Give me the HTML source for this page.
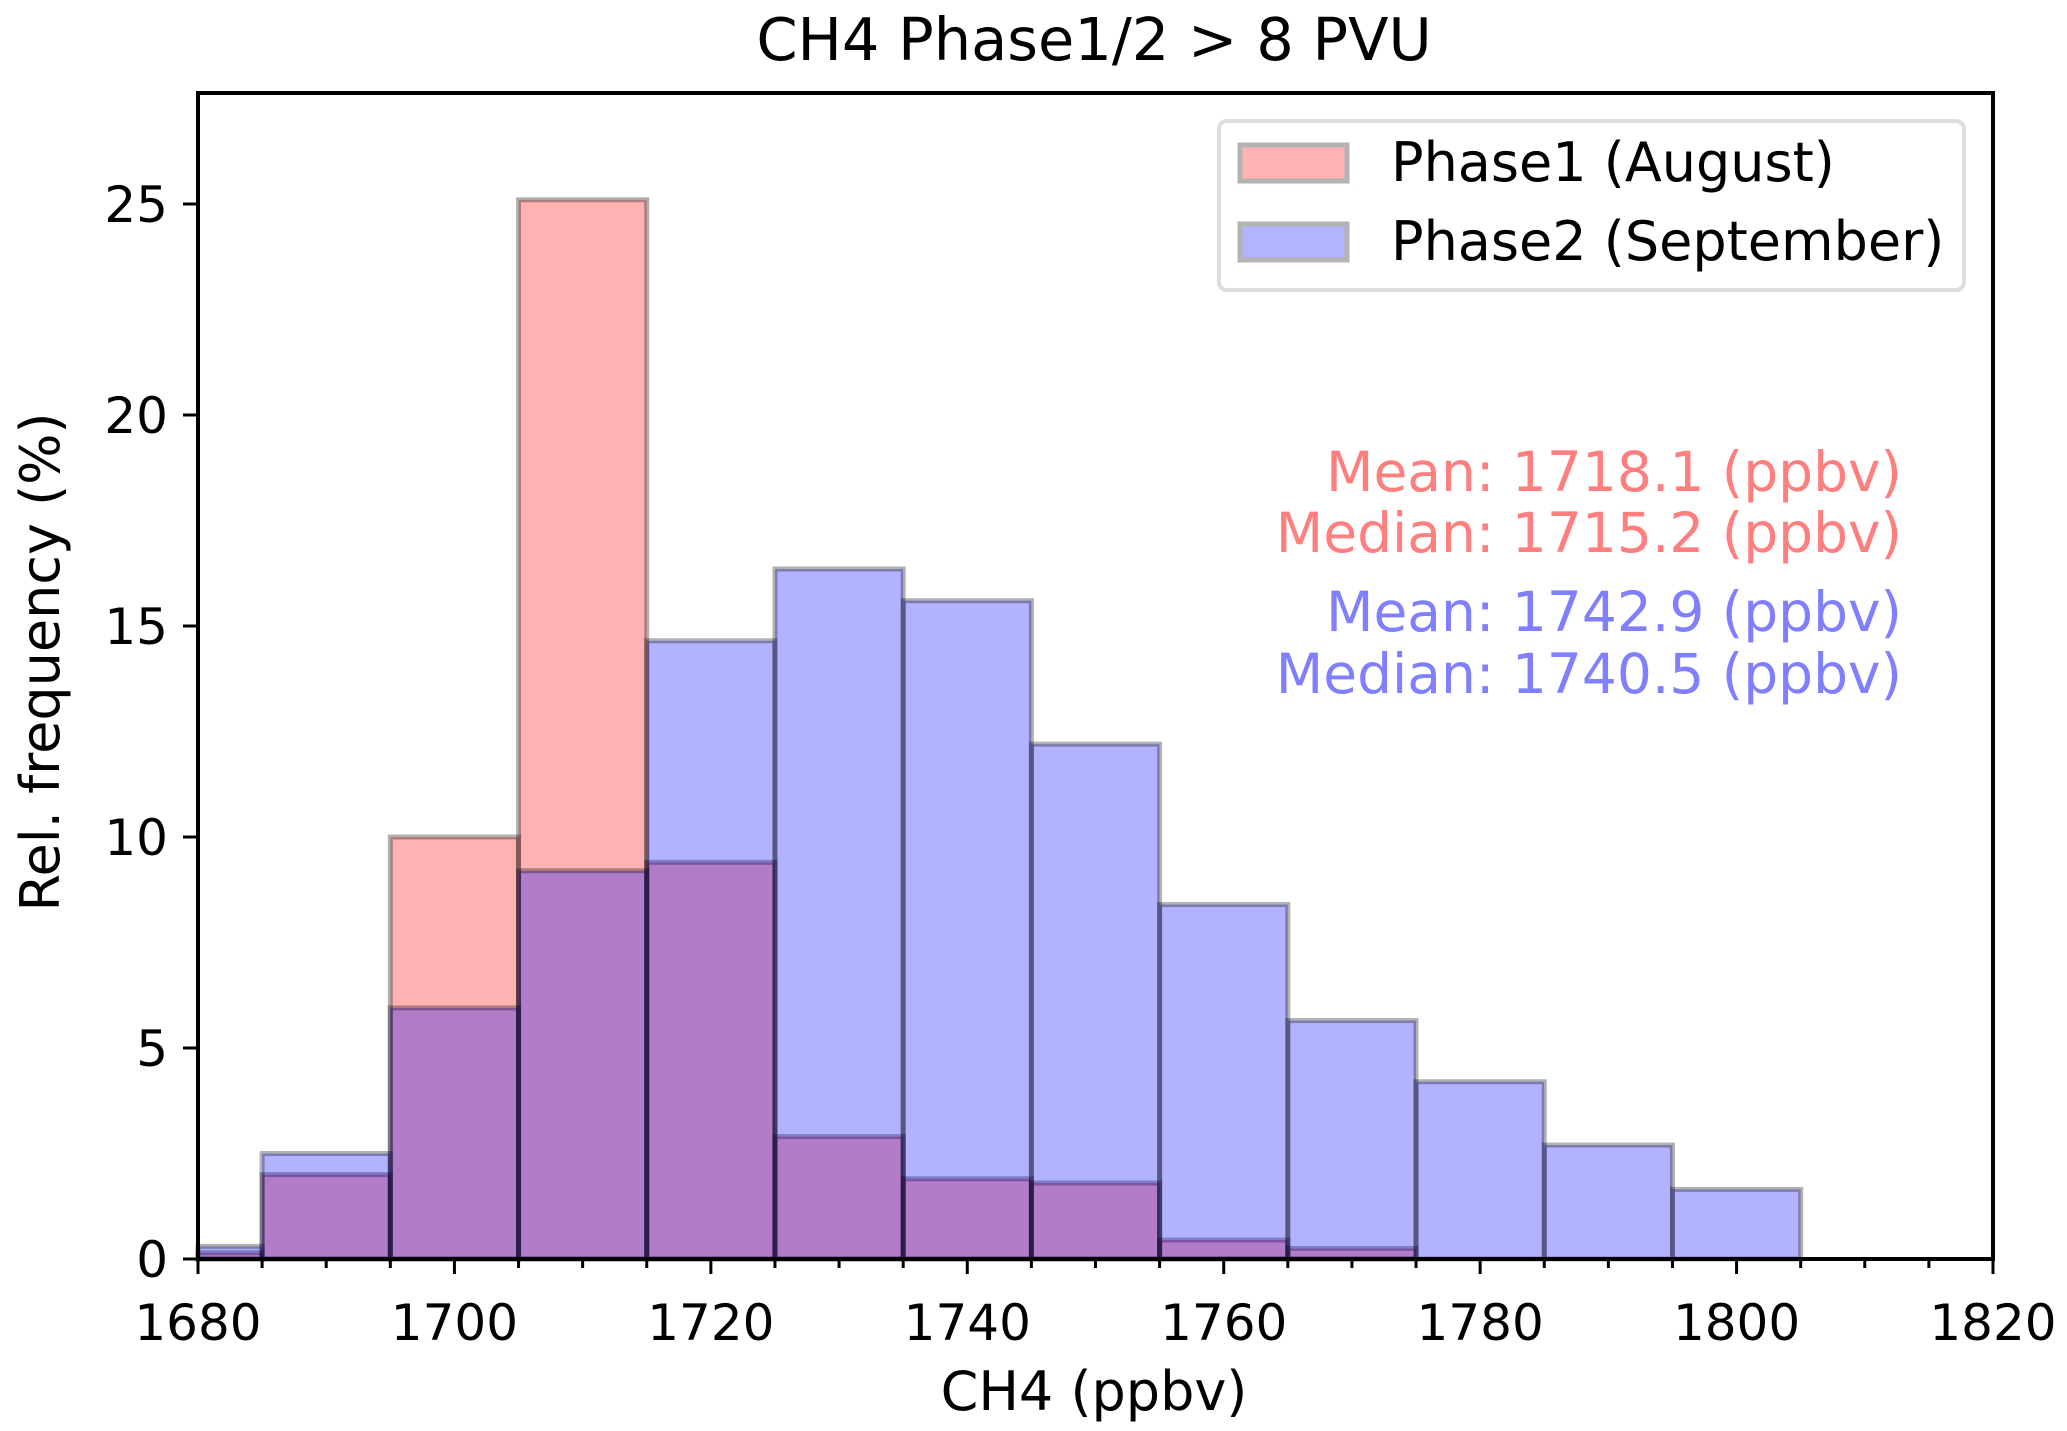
<!DOCTYPE html>
<html><head><meta charset="utf-8"><style>
body{margin:0;background:#fff}
svg text{font-family:"DejaVu Sans","Liberation Sans",sans-serif}
</style></head><body>
<svg id="chart" width="2067" height="1426" viewBox="0 0 2067 1426" xmlns="http://www.w3.org/2000/svg">
<rect width="2067" height="1426" fill="#fff"/>
<text x="1094" y="60" font-size="59" text-anchor="middle">CH4 Phase1/2 &gt; 8 PVU</text>
<g id="bars"></g>
<g id="axes"></g>
<rect x="198" y="93" width="1795" height="1166" fill="none" stroke="#000" stroke-width="4"/>
<g>
<rect x="1219" y="121" width="745" height="169" rx="8" fill="#fff" fill-opacity="0.8" stroke="#ddd" stroke-width="4"/>
<rect x="1240" y="145" width="107" height="36" fill="#ffb3b3" stroke="#b3b3b3" stroke-width="5"/>
<text x="1391" y="181" font-size="54">Phase1 (August)</text>
<rect x="1240" y="224" width="107" height="36" fill="#b3b3ff" stroke="#b3b3b3" stroke-width="5"/>
<text x="1391" y="260" font-size="54">Phase2 (September)</text>
</g>
<g font-size="55" text-anchor="end">
<text x="1902" y="491" fill="#ff7f7f">Mean: 1718.1 (ppbv)</text>
<text x="1902" y="552" fill="#ff7f7f">Median: 1715.2 (ppbv)</text>
<text x="1902" y="631" fill="#7f7fff">Mean: 1742.9 (ppbv)</text>
<text x="1902" y="693" fill="#7f7fff">Median: 1740.5 (ppbv)</text>
</g>
<text x="1094" y="1410" font-size="54" text-anchor="middle">CH4 (ppbv)</text>
<text transform="translate(59,662) rotate(-90)" font-size="54" text-anchor="middle">Rel. frequency (%)</text>
</svg>
<script>
const binCenters=[1680,1690,1700,1710,1720,1730,1740,1750,1760,1770,1780,1790,1800];
const phase1Values=[0.15,2.0,10.0,25.1,9.4,2.9,1.9,1.8,0.45,0.25,0,0,0];
const phase2Values=[0.3,2.5,5.95,9.2,14.65,16.35,15.6,12.2,8.4,5.65,4.2,2.7,1.65];
const xTicks=[1680,1700,1720,1740,1760,1780,1800,1820];
const yTicks=[0,5,10,15,20,25];
const binWidth=10;
const X0=198,X1=1993,Y0=1259,Y1=93,xmin=1680,xmax=1820,ymax=27.63;
const sx=v=>X0+(v-xmin)/(xmax-xmin)*(X1-X0);
const sy=v=>Y0-v/ymax*(Y0-Y1);
const NS='http://www.w3.org/2000/svg';
const bars=document.getElementById('bars'),axes=document.getElementById('axes');
function drawSeries(vals,color,nm){
  binCenters.forEach((c,i)=>{
    if(vals[i]<=0)return;
    let l=Math.max(sx(c-binWidth/2),X0),r=sx(c+binWidth/2);
    const el=document.createElementNS(NS,'rect');
    
    
    el.setAttribute('x',l);el.setAttribute('y',sy(vals[i]));
    el.setAttribute('width',r-l);el.setAttribute('height',Y0-sy(vals[i]));
    el.setAttribute('fill',color);el.setAttribute('fill-opacity','0.3');
    el.setAttribute('stroke','#000');el.setAttribute('stroke-opacity','0.3');el.setAttribute('stroke-width','5');
    bars.appendChild(el);
  });
}
drawSeries(phase1Values,'#ff0000','phase1');
drawSeries(phase2Values,'#0000ff','phase2');
function line(x1,y1,x2,y2,nm){
  const el=document.createElementNS(NS,'line');
  
  
  el.setAttribute('x1',x1);el.setAttribute('y1',y1);el.setAttribute('x2',x2);el.setAttribute('y2',y2);
  el.setAttribute('stroke','#000');el.setAttribute('stroke-width','3');
  axes.appendChild(el);
}
function text(x,y,s,anchor,nm){
  const el=document.createElementNS(NS,'text');
  
  
  el.setAttribute('x',x);el.setAttribute('y',y);el.setAttribute('font-size','50');el.setAttribute('text-anchor',anchor);
  el.textContent=s;axes.appendChild(el);
}
for(let v=xmin;v<=xmax;v+=5){ if(v%20) line(sx(v),Y0,sx(v),Y0+9,'x-minor-tick'); }
xTicks.forEach(v=>{line(sx(v),Y0,sx(v),Y0+15,'x-tick');text(sx(v),1340,String(v),'middle','x-tick-label');});
yTicks.forEach(v=>{line(X0-15,sy(v),X0,sy(v),'y-tick');text(168,sy(v)+18,String(v),'end','y-tick-label');});
</script>
</body></html>
